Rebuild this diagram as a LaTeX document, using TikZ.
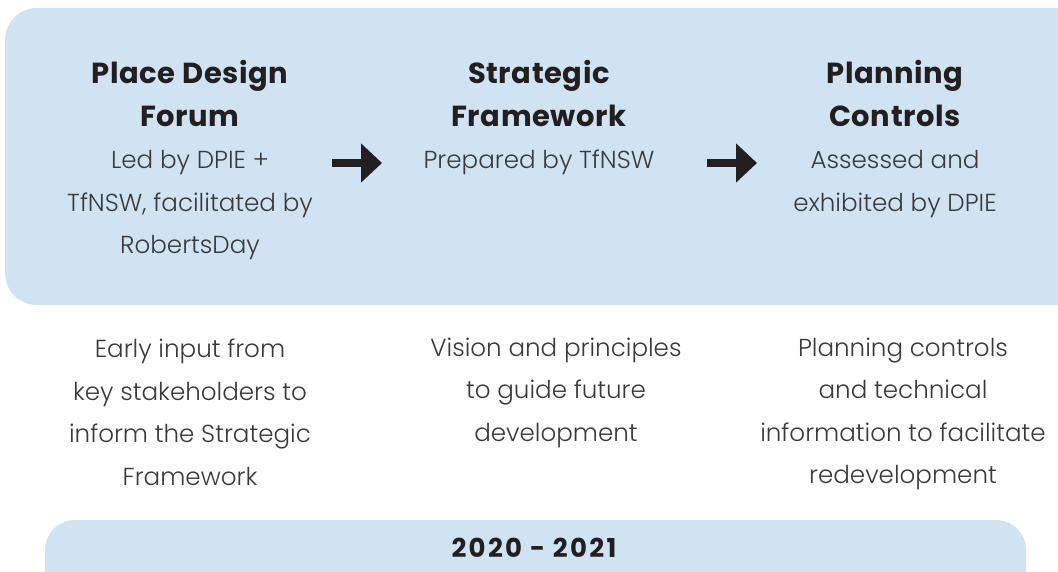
\documentclass[tikz,border=0pt]{standalone}
\usepackage{fontspec}
\setmainfont{Poppins}
\newfontfamily\lightfont{Poppins Light}
\newfontfamily\titlefont[LetterSpace=2]{Poppins}
\newfontfamily\yearfont[LetterSpace=9]{Poppins}
\usetikzlibrary{arrows.meta}
\definecolor{boxblue}{HTML}{D0E3F2}
\definecolor{titlegray}{HTML}{231F20}
\definecolor{bodygray}{HTML}{3A3A3A}
\tikzset{
  x=1pt,y=-1pt,
  titletext/.style={align=center,inner sep=0pt,text=titlegray,font=\titlefont\fontsize{29}{42.5}\selectfont\bfseries},
  bodytext/.style={align=center,inner sep=0pt,text=bodygray,font=\lightfont\fontsize{24.6}{42.5}\selectfont},
  yeartext/.style={inner sep=0pt,text=titlegray,font=\yearfont\fontsize{26}{30}\selectfont\bfseries},
  flowarrow/.style={line width=8pt,draw=titlegray,-{Triangle[length=21pt,width=38pt]}}
}
\begin{document}
\begin{tikzpicture}
\useasboundingbox (0,0) rectangle (1058,572);
\fill[boxblue,rounded corners=32pt] (5,8) rectangle (1090,305);
\fill[boxblue,rounded corners=30pt] (45,520) rectangle (1026,600);
\node[titletext] (t1) at (190,93.5) {Place Design\\Forum};
\node[titletext] (t2) at (539,93.5) {Strategic\\Framework};
\node[titletext] (t3) at (895,93.5) {Planning\\Controls};
\node[bodytext] (s1) at (190,205.5) {Led by DPIE +\\TfNSW, facilitated by\\RobertsDay};
\node[bodytext] (s2) at (539,162.5) {Prepared by TfNSW};
\node[bodytext] (s3) at (895,184) {Assessed and\\exhibited by DPIE};
\node[bodytext] (d1) at (190,412.5) {Early input from\\key stakeholders to\\inform the Strategic\\Framework};
\node[bodytext] (d2) at (556,392.5) {Vision and principles\\to guide future\\development};
\node[bodytext] (d3) at (903,414) {Planning controls\\and technical\\information to facilitate\\redevelopment};
\node[yeartext] (yr) at (534,548) {2020 - 2021};
\coordinate (a1s) at (332,163);
\coordinate (a1e) at (382,163);
\coordinate (a2s) at (707,163);
\coordinate (a2e) at (757,163);
\draw[flowarrow] (a1s) -- (a1e);
\draw[flowarrow] (a2s) -- (a2e);
\end{tikzpicture}
\end{document}
